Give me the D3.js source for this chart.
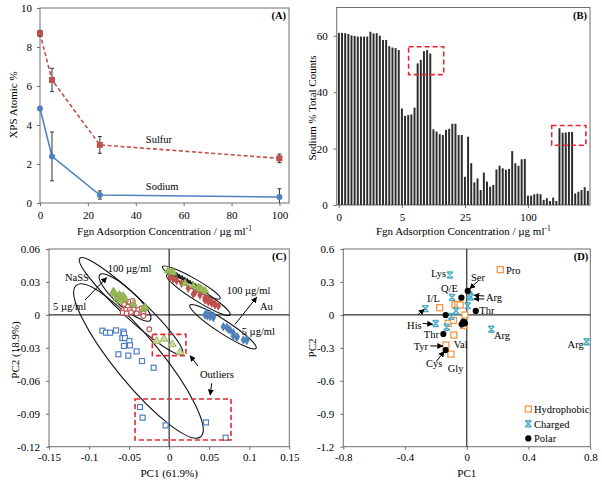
<!DOCTYPE html>
<html><head><meta charset="utf-8">
<script src="https://cdn.jsdelivr.net/npm/d3@7"></script>
<style>
body{margin:0;background:#fff}
svg{display:block}
text{font-family:"Liberation Serif","Times New Roman",serif;fill:#000}
</style>
</head><body>
<svg id="c" width="602" height="485"></svg>
<script>
// ---------------- DATA ----------------
// Panel A
const concA = [0, 5, 25, 100];
const sulfur = [8.7, 6.31, 2.98, 2.29];
const sulfurErr = [0.15, 0.6, 0.43, 0.22];
const sodium = [4.85, 2.39, 0.41, 0.31];
const sodiumErr = [0.1, 1.25, 0.21, 0.42];
const ticksAx = [0, 20, 40, 60, 80, 100];
const ticksAy = [0, 2, 4, 6, 8, 10];

// Panel B (20 spectra per concentration group)
const groupLabels = ["0", "5", "25", "100"];
const sodiumCounts = [
  61, 61, 60.9, 60.6, 60.1, 59.9, 59.7, 59.7, 59.7, 59.7, 61.4, 60.8, 60.9, 60, 58.5, 58.5, 56.3, 55.8, 55.6, 54.9,
  34.2, 31.6, 31.9, 32.1, 34.5, 50.2, 51.4, 54.5, 54.9, 53.7, 26.8, 26, 25.1, 24.8, 26.6, 27, 28.8, 28.8, 24.8, 24.8,
  10, 24.2, 14.8, 8, 9.4, 5.3, 11.5, 8.3, 6.5, 7.1, 12.6, 13.9, 13, 12.5, 12.8, 19.1, 14.8, 13.9, 16.2, 16.3,
  3.3, 3.3, 3.8, 4.0, 3.8, 1.8, 2.4, 1.4, 2.6, 1.4, 27.2, 25.6, 25.7, 25.9, 25.9, 4.1, 4.7, 5.3, 6.3, 5.0
];
const ticksBy = [0, 20, 40, 60];

// Panel C (PCA scores)
const nass5 = [[-0.0834,-0.0144],[-0.0788,-0.0162],[-0.0738,-0.0162],[-0.0663,-0.0141],[-0.0572,-0.0153],[-0.0564,-0.0171],[-0.0584,-0.0211],[-0.0551,-0.0211],[-0.0497,-0.0238],[-0.0489,-0.0277],[-0.0564,-0.0283],[-0.0634,-0.0359],[-0.0510,-0.0371],[-0.0406,-0.0332],[-0.0339,-0.0420],[-0.0193,-0.0481],[-0.0364,-0.0839],[-0.0331,-0.0936],[-0.0044,-0.1006],[0.0460,-0.0979],[0.0705,-0.1118]];
const nassMid = [[-0.0551,0.0106],[-0.0497,0.0120],[-0.0455,0.0127],[-0.0447,0.0090],[-0.0518,0.0075],[-0.0572,0.0045],[-0.0539,0.0045],[-0.0489,0.0045],[-0.0439,0.0051],[-0.0385,0.0045],[-0.0343,0.0060],[-0.0322,0.0015],[-0.0580,0.0020],[-0.0530,0.0015],[-0.0476,0.0024],[-0.0405,0.0015],[-0.0248,-0.0131],[-0.0322,-0.0010],[-0.0564,0.0099]];
const nass100 = [[-0.0697,0.0211],[-0.0689,0.0206],[-0.0676,0.0187],[-0.0655,0.0151],[-0.0634,0.0157],[-0.0622,0.0184],[-0.0593,0.0166],[-0.0593,0.0136],[-0.0572,0.0172],[-0.0551,0.0145],[-0.0614,0.0127],[-0.0447,0.0097],[-0.0322,0.0054],[-0.0302,0.0069]];
const nass100Out = [[-0.0156,-0.0238],[-0.0064,-0.0219],[0.0040,-0.0268],[0.0135,-0.0341]];
const au100 = [[-0.0011,0.0402],[0.0031,0.0388],[0.0050,0.0385],[0.0198,0.0288],[0.0302,0.0266],[0.0364,0.0248],[0.0385,0.0242],[0.0406,0.0233],[0.0447,0.0220]];
const au100b = [[0.0073,0.0379],[0.0107,0.0363],[0.0139,0.0348],[0.0173,0.0336],[0.0207,0.0320],[0.0239,0.0309],[0.0273,0.0293],[0.0306,0.0279],[0.0339,0.0266]];
const auMid = [[0.0011,0.0342],[0.0052,0.0327],[0.0094,0.0311],[0.0156,0.0288],[0.0239,0.0242],[0.0302,0.0188],[0.0323,0.0206],[0.0385,0.0181],[0.0447,0.0157],[0.0447,0.0136],[0.0489,0.0142],[0.0489,0.0120],[0.0531,0.0120],[0.0531,0.0106],[0.0572,0.0099],[0.0572,0.0090],[0.0614,0.0081]];
const au5 = [[0.0447,-0.0001],[0.0468,0.0015],[0.0476,-0.0007],[0.0510,0.0005],[0.0510,-0.0016],[0.0551,-0.0010],[0.0551,-0.0025],[0.0676,-0.0107],[0.0718,-0.0113],[0.0739,-0.0128],[0.0760,-0.0137],[0.0801,-0.0162],[0.0801,-0.0192],[0.0843,-0.0204],[0.0851,-0.0198],[0.0926,-0.0229],[0.0968,-0.0235],[0.0968,-0.0219]];
const ticksCx = [-0.15, -0.1, -0.05, 0, 0.05, 0.1, 0.15];
const ticksCy = [0.06, 0.03, 0, -0.03, -0.06, -0.09, -0.12];

// Panel D (PCA loadings)
const hydrophobic = [[0.217,0.412],[-0.176,0.066],[-0.076,0.093],[-0.059,0.096],[-0.043,0.090],[-0.012,-0.001],[-0.120,-0.077],[-0.086,-0.050],[-0.020,-0.095],[-0.084,-0.183],[-0.136,-0.274],[-0.103,-0.357]];
const charged = [[-0.109,0.363],[-0.095,0.160],[0.016,0.181],[0.025,0.163],[0.006,0.084],[-0.070,0.037],[-0.100,-0.013],[-0.268,0.057],[-0.202,-0.078],[-0.130,-0.113],[0.159,-0.130],[0.776,-0.244]];
const polar = [[0.006,0.218],[-0.035,0.157],[0.058,0.036],[-0.137,-0.001],[-0.023,-0.062],[-0.033,-0.086],[-0.012,-0.077],[-0.152,-0.174],[-0.137,-0.320]];
const ticksDx = [-0.8, -0.4, 0, 0.4, 0.8];
const ticksDy = [0.6, 0.3, 0, -0.3, -0.6, -0.9, -1.2];

// ---------------- STYLE ----------------
const BLUE = "#4f81bd", RED = "#c0504d", GREEN = "#9bbb59", ORANGE = "#f79646", CYAN = "#4bacc6";
const BOXRED = "#e8262d", FRAME = "#6e6e6e";
const FS = 11;

const svg = d3.select("#c");
const defs = svg.append("defs");
defs.append("marker").attr("id","arr").attr("viewBox","0 0 10 10").attr("refX",9).attr("refY",5)
  .attr("markerWidth",6).attr("markerHeight",6).attr("orient","auto-start-reverse")
  .append("path").attr("d","M0,0L10,5L0,10z").attr("fill","#000");

function frame(x, y) {
  svg.append("rect").attr("x", x.range()[0]).attr("y", y.range()[1])
    .attr("width", x.range()[1]-x.range()[0]).attr("height", y.range()[0]-y.range()[1])
    .attr("fill","none").attr("stroke",FRAME).attr("stroke-width",1);
}
function styleAxis(g) {
  g.select(".domain").remove();
  g.selectAll(".tick line").attr("stroke",FRAME);
  g.selectAll(".tick text").attr("font-size",FS).attr("font-family","Liberation Serif").attr("fill","#000");
}
function bottomAxis(scale, y, ticks, fmt, pad) {
  svg.append("g").attr("transform",`translate(0,${y})`)
    .call(d3.axisBottom(scale).tickValues(ticks).tickFormat(fmt).tickSize(3).tickSizeOuter(0).tickPadding(pad))
    .call(styleAxis);
}
function leftAxis(scale, x, ticks, fmt, pad) {
  svg.append("g").attr("transform",`translate(${x},0)`)
    .call(d3.axisLeft(scale).tickValues(ticks).tickFormat(fmt).tickSize(3).tickSizeOuter(0).tickPadding(pad))
    .call(styleAxis);
}
function fmtNum(v){ return String(Math.round(v*100)/100); }
function ytitle(txt, x, y) {
  svg.append("text").attr("transform",`translate(${x},${y}) rotate(-90)`).attr("text-anchor","middle")
    .attr("font-size",FS).text(txt);
}
function xtitleUnit(cx, y) {
  const t = svg.append("text").attr("x",cx).attr("y",y).attr("text-anchor","middle").attr("font-size",FS);
  t.append("tspan").text("Fgn Adsorption Concentration / µg ml");
  t.append("tspan").attr("font-size",7.5).attr("dy",-4).text("-1");
}
function panelTag(txt, x, y) {
  svg.append("text").attr("x",x).attr("y",y).attr("text-anchor","end").attr("font-size",10.5)
    .attr("font-weight","bold").text(txt);
}
function label(txt, x, y, size) {
  svg.append("text").attr("x",x).attr("y",y).attr("font-size",size||FS).text(txt);
}
function arrow(x1,y1,x2,y2) {
  svg.append("line").attr("x1",x1).attr("y1",y1).attr("x2",x2).attr("y2",y2)
    .attr("stroke","#000").attr("stroke-width",1).attr("marker-end","url(#arr)");
}

// ---------------- PANEL A ----------------
{
  const x = d3.scaleLinear().domain([0,104]).range([40,289]);
  const y = d3.scaleLinear().domain([0,10]).range([203,8]);
  frame(x,y);
  bottomAxis(x, 203, ticksAx, d3.format("d"), 5);
  leftAxis(y, 40, ticksAy, d3.format("d"), 5);
  const series = [
    {v: sulfur, e: sulfurErr, c: RED, dash: "4,2.5", shape: "sq"},
    {v: sodium, e: sodiumErr, c: BLUE, dash: null, shape: "ci"}
  ];
  series.forEach(s => {
    const pts = concA.map((c,i)=>[c, s.v[i], s.e[i]]);
    svg.append("path").datum(pts).attr("fill","none").attr("stroke",s.c).attr("stroke-width",1.6)
      .attr("stroke-dasharray",s.dash).attr("d", d3.line().x(d=>x(d[0])).y(d=>y(d[1])));
    const eb = svg.append("g").attr("stroke","#333").attr("stroke-width",1);
    pts.forEach(d => {
      const lo = Math.max(0, d[1]-d[2]), hi = d[1]+d[2];
      eb.append("line").attr("x1",x(d[0])).attr("x2",x(d[0])).attr("y1",y(lo)).attr("y2",y(hi));
      eb.append("line").attr("x1",x(d[0])-2).attr("x2",x(d[0])+2).attr("y1",y(hi)).attr("y2",y(hi));
      if (d[1]-d[2] > 0) eb.append("line").attr("x1",x(d[0])-2).attr("x2",x(d[0])+2).attr("y1",y(lo)).attr("y2",y(lo));
    });
    pts.forEach(d => {
      if (s.shape === "sq") svg.append("rect").attr("x",x(d[0])-3).attr("y",y(d[1])-3).attr("width",6).attr("height",6).attr("fill",s.c);
      else svg.append("circle").attr("cx",x(d[0])).attr("cy",y(d[1])).attr("r",3).attr("fill",s.c);
    });
  });
  label("Sulfur", x(44.2), y(3.08), 10.5);
  label("Sodium", x(44.2), y(0.67), 10.5);
  panelTag("(A)", 286, 19);
  xtitleUnit(164.5, 235);
  ytitle("XPS Atomic %", 17, 105);
}

// ---------------- PANEL B ----------------
{
  const idx = d3.range(sodiumCounts.length);
  const x = d3.scaleBand().domain(idx).range([336.7,590]).padding(0.38);
  const xi = d3.scaleLinear().domain([0, sodiumCounts.length]).range([336.7,590]);
  const y = d3.scaleLinear().domain([0,70]).range([205,7.5]);
  frame(xi,y);
  leftAxis(y, 336.7, ticksBy, d3.format("d"), 6);
  svg.append("g").selectAll("rect").data(sodiumCounts).join("rect")
    .attr("x",(d,i)=>x(i)).attr("width",x.bandwidth()).attr("y",d=>y(d)).attr("height",d=>y(0)-y(d))
    .attr("fill","#2b2b2b");
  const per = sodiumCounts.length / groupLabels.length;
  const gx = d3.scalePoint().domain(groupLabels).range([x(0)+x.bandwidth()/2, x(3*per)+x.bandwidth()/2]);
  svg.append("g").attr("transform","translate(0,205)")
    .call(d3.axisBottom(gx).tickSize(3).tickSizeOuter(0).tickPadding(5)).call(styleAxis);
  const boxes = [{i0:22.7,i1:33.8,v0:46.2,v1:56.1},{i0:67.9,i1:78.7,v0:21.2,v1:28.2}];
  boxes.forEach(b => svg.append("rect").attr("x",xi(b.i0)).attr("y",y(b.v1)).attr("width",xi(b.i1)-xi(b.i0))
    .attr("height",y(b.v0)-y(b.v1)).attr("fill","none").attr("stroke",BOXRED).attr("stroke-width",1.6).attr("stroke-dasharray","5,3"));
  panelTag("(B)", 587, 19);
  xtitleUnit(463.3, 235);
  ytitle("Sodium % Total Counts", 316, 108);
}

// ---------------- PANEL C ----------------
{
  const x = d3.scaleLinear().domain([-0.15,0.15]).range([49,289.3]);
  const y = d3.scaleLinear().domain([-0.12,0.06]).range([446.7,249]);
  frame(x,y);
  bottomAxis(x, 446.7, ticksCx, fmtNum, 4);
  leftAxis(y, 49, ticksCy, fmtNum, 6);
  svg.append("line").attr("x1",x(0)).attr("x2",x(0)).attr("y1",y.range()[1]).attr("y2",y.range()[0]).attr("stroke","#000");
  svg.append("line").attr("x1",x.range()[0]).attr("x2",x.range()[1]).attr("y1",y(0)).attr("y2",y(0)).attr("stroke","#000");

  const ellipses = [
    {cx:-0.0383, cy:-0.0420, rx:98, ry:23, a:50.6},
    {cx:-0.0476, cy:0.0081, rx:70, ry:11, a:43},
    {cx:-0.0551, cy:0.0158, rx:34, ry:9, a:42},
    {cx:0.0277, cy:0.0295, rx:33, ry:5, a:29},
    {cx:0.0364, cy:0.0181, rx:37.5, ry:6, a:32},
    {cx:0.0672, cy:-0.0107, rx:39.5, ry:6.5, a:33}
  ];
  ellipses.forEach(e => svg.append("ellipse").attr("transform",`translate(${x(e.cx)},${y(e.cy)}) rotate(${e.a})`)
    .attr("rx",e.rx).attr("ry",e.ry).attr("fill","none").attr("stroke","#111").attr("stroke-width",1.1));

  const tri = d3.symbol().type(d3.symbolTriangle).size(26);
  const dia = d3.symbol().type(d3.symbolDiamond).size(26);
  svg.append("g").selectAll("rect").data(nass5).join("rect")
    .attr("x",d=>x(d[0])-2.5).attr("y",d=>y(d[1])-2.5).attr("width",5).attr("height",5)
    .attr("fill","#fff").attr("stroke",BLUE).attr("stroke-width",1.2);
  svg.append("g").selectAll("circle").data(nassMid).join("circle")
    .attr("cx",d=>x(d[0])).attr("cy",d=>y(d[1])).attr("r",2.4)
    .attr("fill","#fff").attr("stroke",RED).attr("stroke-width",1.1);
  svg.append("g").selectAll("path").data(nass100).join("path").attr("d",tri)
    .attr("transform",d=>`translate(${x(d[0])},${y(d[1])})`).attr("fill",GREEN).attr("stroke","#86a646").attr("stroke-width",0.6);
  svg.append("g").selectAll("path").data(nass100Out).join("path").attr("d",tri)
    .attr("transform",d=>`translate(${x(d[0])},${y(d[1])})`).attr("fill","#c9dba0").attr("stroke",GREEN).attr("stroke-width",1);
  svg.append("g").selectAll("path").data(au5).join("path").attr("d",dia)
    .attr("transform",d=>`translate(${x(d[0])},${y(d[1])})`).attr("fill",BLUE);
  svg.append("g").selectAll("path").data(auMid).join("path").attr("d",dia)
    .attr("transform",d=>`translate(${x(d[0])},${y(d[1])})`).attr("fill",RED);
  svg.append("g").selectAll("path").data(au100b).join("path").attr("d","M-1.5,-2.5L1.5,2.5")
    .attr("transform",d=>`translate(${x(d[0])},${y(d[1])})`).attr("stroke","#111").attr("stroke-width",1.6);
  svg.append("g").selectAll("path").data(au100).join("path").attr("d",tri)
    .attr("transform",d=>`translate(${x(d[0])},${y(d[1])})`).attr("fill",GREEN).attr("stroke","#86a646").attr("stroke-width",0.6);

  const boxes = [{x0:-0.0210,x1:0.0210,y0:-0.0371,y1:-0.0177},{x0:-0.0426,x1:0.0772,y0:-0.1139,y1:-0.0766}];
  boxes.forEach(b => svg.append("rect").attr("x",x(b.x0)).attr("y",y(b.y1)).attr("width",x(b.x1)-x(b.x0))
    .attr("height",y(b.y0)-y(b.y1)).attr("fill","none").attr("stroke",BOXRED).attr("stroke-width",1.6).attr("stroke-dasharray","5,3"));

  const texts = [["NaSS",-0.130,0.0313],["100 µg/ml",-0.0768,0.0391],["5 µg/ml",-0.145,0.0045],
                 ["100 µg/ml",0.0718,0.0190],["Au",0.1134,0.0045],["5 µg/ml",0.0906,-0.0183],["Outliers",0.0385,-0.0574]];
  texts.forEach(t => label(t[0], x(t[1]), y(t[2]), 10.5));
  const arrows = [[-0.105,0.0136,-0.078,0.0339],[0.0822,-0.0086,0.1093,0.0160],[0.0360,-0.0465,0.0262,-0.0372],[0.0531,-0.0623,0.0512,-0.0729]];
  arrows.forEach(a => arrow(x(a[0]),y(a[1]),x(a[2]),y(a[3])));
  panelTag("(C)", 286.5, 260);
  svg.append("text").attr("x",169.2).attr("y",477).attr("text-anchor","middle").attr("font-size",FS).text("PC1 (61.9%)");
  ytitle("PC2 (18.9%)", 18.5, 350);
}

// ---------------- PANEL D ----------------
{
  const x = d3.scaleLinear().domain([-0.8,0.8]).range([343.3,590.3]);
  const y = d3.scaleLinear().domain([-1.2,0.6]).range([446.7,249]);
  frame(x,y);
  bottomAxis(x, 446.7, ticksDx, fmtNum, 4);
  leftAxis(y, 343.3, ticksDy, fmtNum, 6);
  svg.append("line").attr("x1",x(0)).attr("x2",x(0)).attr("y1",y.range()[1]).attr("y2",y.range()[0]).attr("stroke","#000");
  svg.append("line").attr("x1",x.range()[0]).attr("x2",x.range()[1]).attr("y1",y(0)).attr("y2",y(0)).attr("stroke","#000");

  const star = "M-3,-3L3,3M-3,3L3,-3M-3,-3L3,-3M-3,3L3,3";
  function drawHydro(g, pts){ g.selectAll(null).data(pts).join("rect").attr("x",d=>d[0]-3).attr("y",d=>d[1]-3)
    .attr("width",6).attr("height",6).attr("fill","#fff").attr("stroke",ORANGE).attr("stroke-width",1.3); }
  function drawCharged(g, pts){ g.selectAll(null).data(pts).join("path").attr("d",star)
    .attr("transform",d=>`translate(${d[0]},${d[1]})`).attr("fill","none").attr("stroke",CYAN).attr("stroke-width",1.4); }
  function drawPolar(g, pts){ g.selectAll(null).data(pts).join("circle").attr("cx",d=>d[0]).attr("cy",d=>d[1])
    .attr("r",3.1).attr("fill","#000"); }
  const px = p => [x(p[0]), y(p[1])];
  drawHydro(svg.append("g"), hydrophobic.map(px));
  drawCharged(svg.append("g"), charged.map(px));
  drawPolar(svg.append("g"), polar.map(px));

  const texts = [["Pro",0.254,0.372],["Lys",-0.232,0.345],["Ser",0.027,0.313],["Q/E",-0.167,0.209],
    ["Arg",0.124,0.127],["I/L",-0.258,0.117],["Thr",0.081,0.008],["His",-0.387,-0.128],["Thr",-0.279,-0.210],
    ["Arg",0.176,-0.219],["Arg",0.653,-0.301],["Tyr",-0.344,-0.320],["Val",-0.085,-0.301],["Cys",-0.264,-0.474],["Gly",-0.124,-0.520]];
  texts.forEach(t => label(t[0], x(t[1]), y(t[2]), 10.5));
  const arrows = [[-0.286,-0.077,-0.221,-0.085],[-0.236,-0.283,-0.156,-0.283],[-0.199,-0.426,-0.146,-0.333],
    [0.071,0.305,0.019,0.240],[0.113,0.172,0.047,0.178],[0.113,0.145,0.047,0.145],[-0.316,0.003,-0.276,0.050]];
  arrows.forEach(a => arrow(x(a[0]),y(a[1]),x(a[2]),y(a[3])));

  // legend
  const leg = [["Hydrophobic", drawHydro],["Charged", drawCharged],["Polar", drawPolar]];
  leg.forEach((l,i) => {
    const ly = 409 + i*14.7;
    l[1](svg.append("g"), [[528.3, ly]]);
    svg.append("text").attr("x",534).attr("y",ly+3.8).attr("font-size",10.5).text(l[0]);
  });
  panelTag("(D)", 588.3, 260);
  svg.append("text").attr("x",466.8).attr("y",477).attr("text-anchor","middle").attr("font-size",FS).text("PC1");
  ytitle("PC2", 316, 348);
}
</script>
</body></html>
